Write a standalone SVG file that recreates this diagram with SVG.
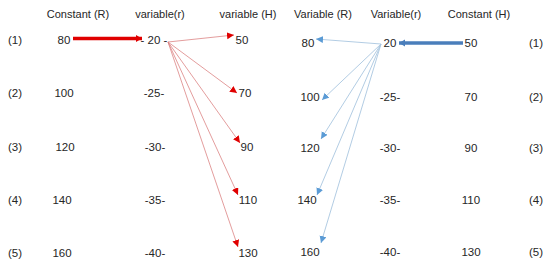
<svg xmlns="http://www.w3.org/2000/svg" width="550" height="269" viewBox="0 0 550 269">
<style>
text{font-family:"Liberation Sans",Arial,sans-serif;font-size:11.5px;fill:#262626;text-anchor:middle}
.h{font-size:11px}
.rt{stroke:#dc8484;stroke-width:0.8;fill:none}
.bt{stroke:#a9c6e0;stroke-width:0.9;fill:none}
</style>
<defs>
<marker id="ar" markerUnits="userSpaceOnUse" markerWidth="8" markerHeight="8" refX="7" refY="3.5" orient="auto"><path d="M0,0L7,3.5L0,7z" fill="#e00000"/></marker>
<marker id="ab" markerUnits="userSpaceOnUse" markerWidth="8" markerHeight="8" refX="7" refY="3.5" orient="auto"><path d="M0,0L7,3.5L0,7z" fill="#5b9bd5"/></marker>
<marker id="arT" markerUnits="userSpaceOnUse" markerWidth="8" markerHeight="8" refX="6" refY="3.5" orient="auto"><path d="M0,0L6,3.5L0,7z" fill="#e00000"/></marker>
<marker id="abT" markerUnits="userSpaceOnUse" markerWidth="8" markerHeight="8" refX="6" refY="3.5" orient="auto"><path d="M0,0L6,3.5L0,7z" fill="#4a7ebb"/></marker>
</defs>
<g id="headers">
<text class="h" x="78" y="18">Constant (R)</text>
<text class="h" x="160" y="18">variable(r)</text>
<text class="h" x="248" y="18">variable (H)</text>
<text class="h" x="323" y="18">Variable (R)</text>
<text class="h" x="396" y="18">Variable(r)</text>
<text class="h" x="479" y="18">Constant (H)</text>
</g>
<g id="row-labels-left">
<text x="15" y="44">(1)</text>
<text x="15" y="97">(2)</text>
<text x="15" y="151">(3)</text>
<text x="15" y="204">(4)</text>
<text x="15" y="257">(5)</text>
</g>
<g id="row-labels-right">
<text x="536" y="47">(1)</text>
<text x="536" y="101">(2)</text>
<text x="536" y="152">(3)</text>
<text x="536" y="204">(4)</text>
<text x="536" y="256">(5)</text>
</g>
<g id="L-R"><text x="64" y="44">80</text><text x="64" y="97">100</text><text x="65" y="151">120</text><text x="62" y="204">140</text><text x="62" y="257">160</text></g>
<g id="L-r"><text x="154" y="44">- 20 -</text><text x="154" y="97">-25-</text><text x="155" y="151">-30-</text><text x="155" y="204">-35-</text><text x="155" y="257">-40-</text></g>
<g id="L-H"><text x="242" y="44">50</text><text x="245" y="97">70</text><text x="247" y="151">90</text><text x="248" y="204">110</text><text x="248" y="257">130</text></g>
<g id="R-R"><text x="308" y="47">80</text><text x="310" y="101">100</text><text x="310" y="152">120</text><text x="307" y="204">140</text><text x="310" y="256">160</text></g>
<g id="R-r"><text x="390" y="47">20</text><text x="390" y="101">-25-</text><text x="390" y="152">-30-</text><text x="390" y="204">-35-</text><text x="390" y="256">-40-</text></g>
<g id="R-H"><text x="471" y="47">50</text><text x="471" y="101">70</text><text x="471" y="152">90</text><text x="471" y="204">110</text><text x="471" y="256">130</text></g>
<g id="connectors">
<line x1="73" y1="38.5" x2="142" y2="38.5" stroke="#e00000" stroke-width="3.5" marker-end="url(#arT)"/>
<line class="rt" x1="168" y1="42" x2="234" y2="35" marker-end="url(#ar)"/>
<line class="rt" x1="168" y1="42" x2="237" y2="93" marker-end="url(#ar)"/>
<line class="rt" x1="168" y1="42" x2="240" y2="143" marker-end="url(#ar)"/>
<line class="rt" x1="168" y1="42" x2="238" y2="195" marker-end="url(#ar)"/>
<line class="rt" x1="168" y1="42" x2="238" y2="247" marker-end="url(#ar)"/>
<line x1="463" y1="43" x2="399" y2="43" stroke="#4a7ebb" stroke-width="3.5" marker-end="url(#abT)"/>
<line class="bt" x1="381" y1="44" x2="316" y2="39" marker-end="url(#ab)"/>
<line class="bt" x1="381" y1="44" x2="322" y2="100" marker-end="url(#ab)"/>
<line class="bt" x1="381" y1="44" x2="321" y2="139" marker-end="url(#ab)"/>
<line class="bt" x1="381" y1="44" x2="317" y2="195" marker-end="url(#ab)"/>
<line class="bt" x1="381" y1="44" x2="321" y2="243" marker-end="url(#ab)"/>
</g>
</svg>
